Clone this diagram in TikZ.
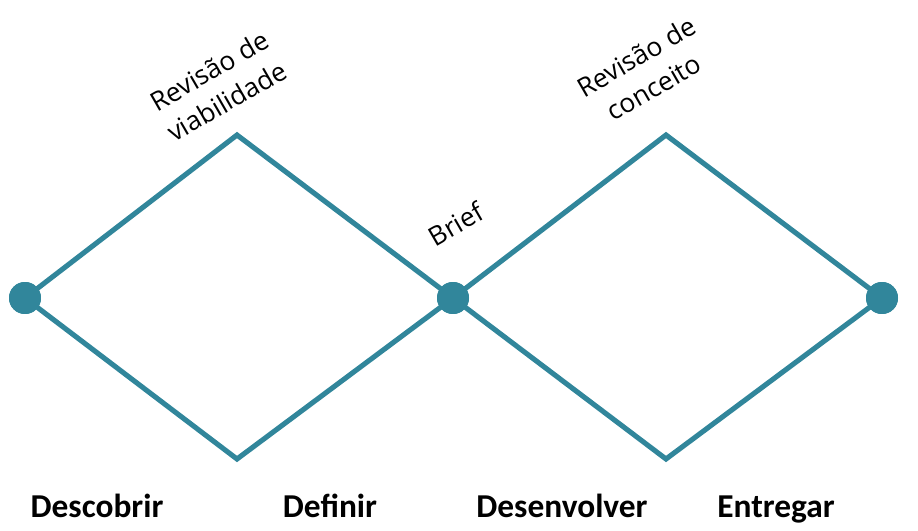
\documentclass[tikz,border=0pt]{standalone}
\usepackage{fontspec}
\setmainfont{Carlito}
\newfontfamily\notefont{Open Sans}
\definecolor{teal}{HTML}{31869B}
\tikzset{
  dot/.style={circle, fill=teal, inner sep=0pt, minimum size=0.64cm},
  edge/.style={draw=teal, line width=2.9pt},
  phase/.style={font=\bfseries\fontsize{19}{22}\selectfont, anchor=base},
  note/.style={font=\notefont\fontsize{15}{20}\selectfont, align=center, rotate=30}
}
\begin{document}
\begin{tikzpicture}[x=0.02cm, y=-0.02cm]
\useasboundingbox (0, 0) rectangle (918, 530);

% vertices of the two diamonds
\coordinate (top1) at (237, 135);
\coordinate (bot1) at (237, 459);
\coordinate (top2) at (666, 135);
\coordinate (bot2) at (666, 459);

\node[dot] (start) at (25, 298) {};
\node[dot] (brief) at (453, 298) {};
\node[dot] (end) at (882, 298) {};

\draw[edge] (start.center) -- (top1) -- (brief.center) -- (bot1) -- (start.center);
\draw[edge] (brief.center) -- (top2) -- (end.center) -- (bot2) -- (brief.center);

\node[dot] at (start) {};
\node[dot] at (brief) {};
\node[dot] at (end) {};

% review labels
\node[note] (viab) at (218, 86) {Revisão de\\viabilidade};
\node[note] (conc) at (645, 72) {Revisão de\\conceito};
\node[note] (brieflbl) at (456, 224) {Brief};

% phases
\node[phase] (descobrir) at (97, 517) {Descobrir};
\node[phase] (definir) at (330, 517) {Definir};
\node[phase] (desenv) at (562, 517) {Desenvolver};
\node[phase] (entregar) at (776, 517) {Entregar};
\end{tikzpicture}
\end{document}
